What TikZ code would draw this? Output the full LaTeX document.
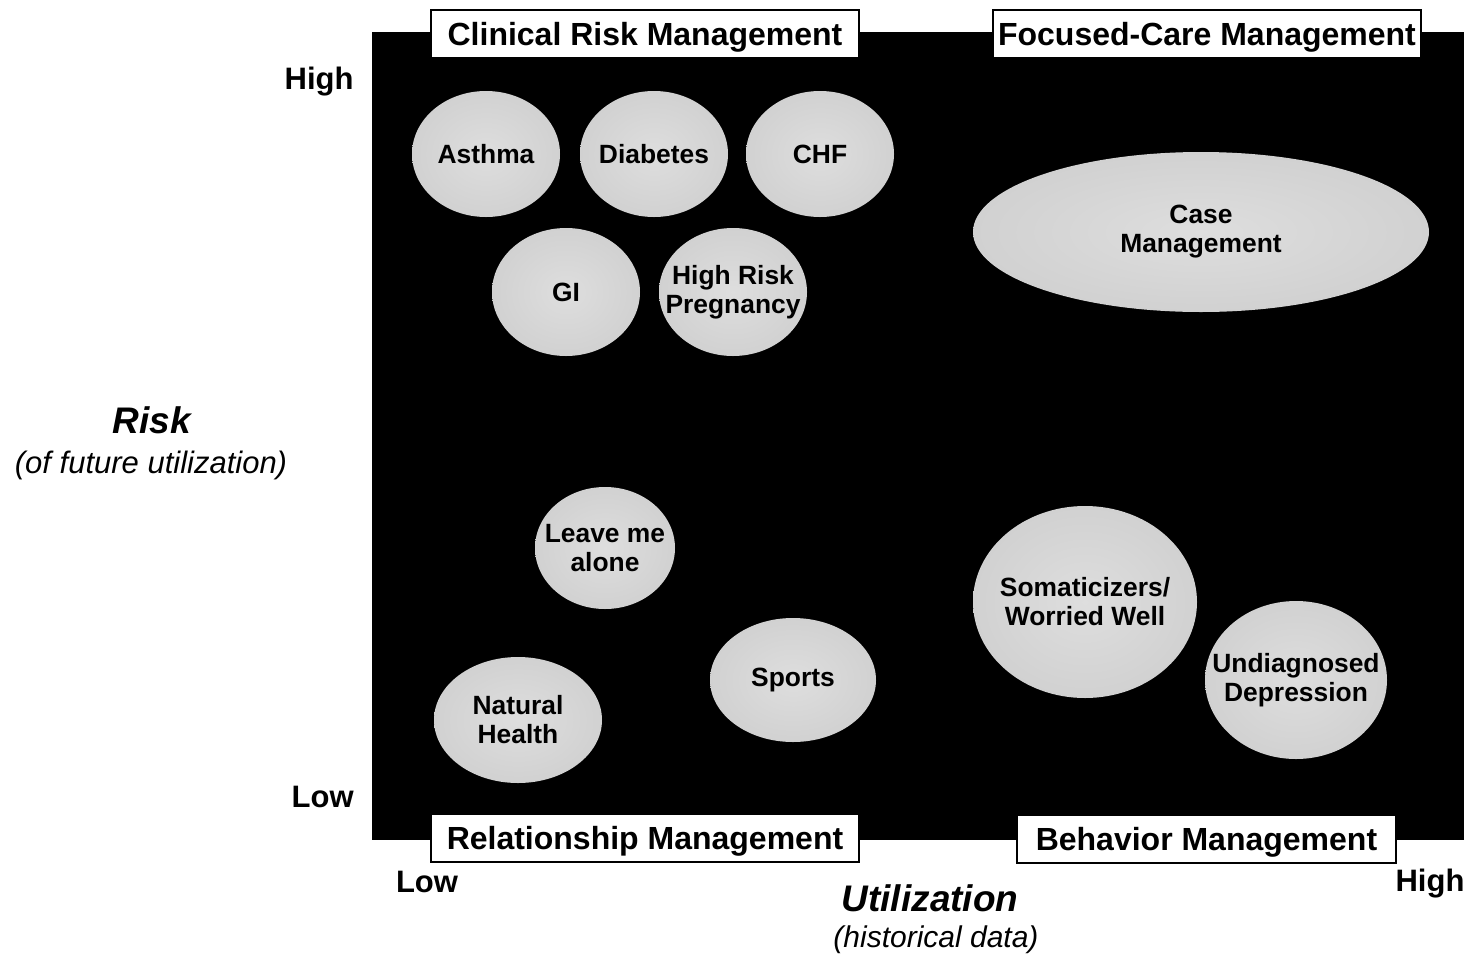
\documentclass[tikz,border=0pt]{standalone}
\usepackage{fontspec}
\setmainfont{Liberation Sans}
\usetikzlibrary{shapes.geometric}
\pgfdeclareradialshading{bubble}{\pgfpoint{0bp}{0bp}}{color(0bp)=(black!13); color(30bp)=(black!19); color(50bp)=(black!29)}
\begin{document}
\begin{tikzpicture}[x=0.5pt,y=-0.5pt]
    \tikzstyle{group}=[ellipse,shading=bubble,inner sep=0pt]
    \tikzstyle{every label}=[align=center,inner sep=0pt,
      font=\fontsize{13.2}{14.5}\selectfont\bfseries]
    \tikzstyle{quadrant}=[draw=black,line width=1pt,fill=white,minimum width=214pt,
      minimum height=24pt,inner sep=0pt,text depth=0pt,font=\fontsize{16}{18}\selectfont\bfseries]
    \tikzstyle{level}=[font=\fontsize{15.5}{17}\selectfont\bfseries,inner sep=0pt]
    \tikzstyle{axis}=[font=\fontsize{18.5}{20}\selectfont\bfseries\itshape,inner sep=0pt]
    \tikzstyle{axis note}=[font=\fontsize{15.5}{17}\selectfont\itshape,inner sep=0pt]

    \useasboundingbox (0,0) rectangle (1468,954);

    % Draw the black field
    \fill[black] (372,32) rectangle (1464,840);

    % Draw the clinical risk groups
    \foreach \name / \x / \txt in {asthma/486/Asthma, diabetes/654/Diabetes, chf/820/CHF}
      \node[group, minimum width=74pt, minimum height=63pt, label=center:\txt] (\name) at (\x,154) {};
    \node[group, minimum width=74pt, minimum height=64pt, label=center:GI] (gi) at (566,292) {};
    \node[group, minimum width=74pt, minimum height=64pt,
      label={center:High Risk\\Pregnancy}] (pregnancy) at (733,292) {};

    % Draw the focused-care group
    \node[group, minimum width=228pt, minimum height=80pt,
      label={center:Case\\Management}] (case) at (1201,232) {};

    % Draw the relationship groups
    \node[group, minimum width=70pt, minimum height=61pt,
      label={center:Leave me\\alone}] (alone) at (605,548) {};
    \node[group, minimum width=83pt, minimum height=62pt, label=center:Sports] (sports) at (793,680) {};
    \node[group, minimum width=84pt, minimum height=63pt,
      label={center:Natural\\Health}] (natural) at (518,720) {};

    % Draw the behavior groups
    \node[group, minimum width=112pt, minimum height=96pt,
      label={center:Somaticizers/\\Worried Well}] (worried) at (1085,602) {};
    \node[group, minimum width=91pt, minimum height=79pt,
      label={center:Undiagnosed\\Depression}] (depression) at (1296,680) {};

    % Draw the quadrant titles
    \node[quadrant] (clinical) at (645,34) {Clinical Risk Management};
    \node[quadrant] (focused) at (1207,34) {Focused-Care Management};
    \node[quadrant] (relationship) at (645,838) {Relationship Management};
    \node[quadrant, minimum width=189.5pt] (behavior) at (1206.5,838.5) {Behavior Management};

    % Draw the axis labels
    \node[level, anchor=east] (risk-high) at (354,82) {High};
    \node[level, anchor=east] (risk-low) at (354,797) {Low};
    \node[level] (use-low) at (427,882) {Low};
    \node[level] (use-high) at (1430,884) {High};
    \node[axis] (risk) at (152,420) {Risk};
    \node[axis note] (risk-note) at (151,465) {(of future utilization)};
    \node[axis] (use) at (930,898) {Utilization};
    \node[axis note, font=\fontsize{15}{17}\selectfont\itshape] (use-note) at (936,940) {(historical data)};
\end{tikzpicture}
\end{document}
